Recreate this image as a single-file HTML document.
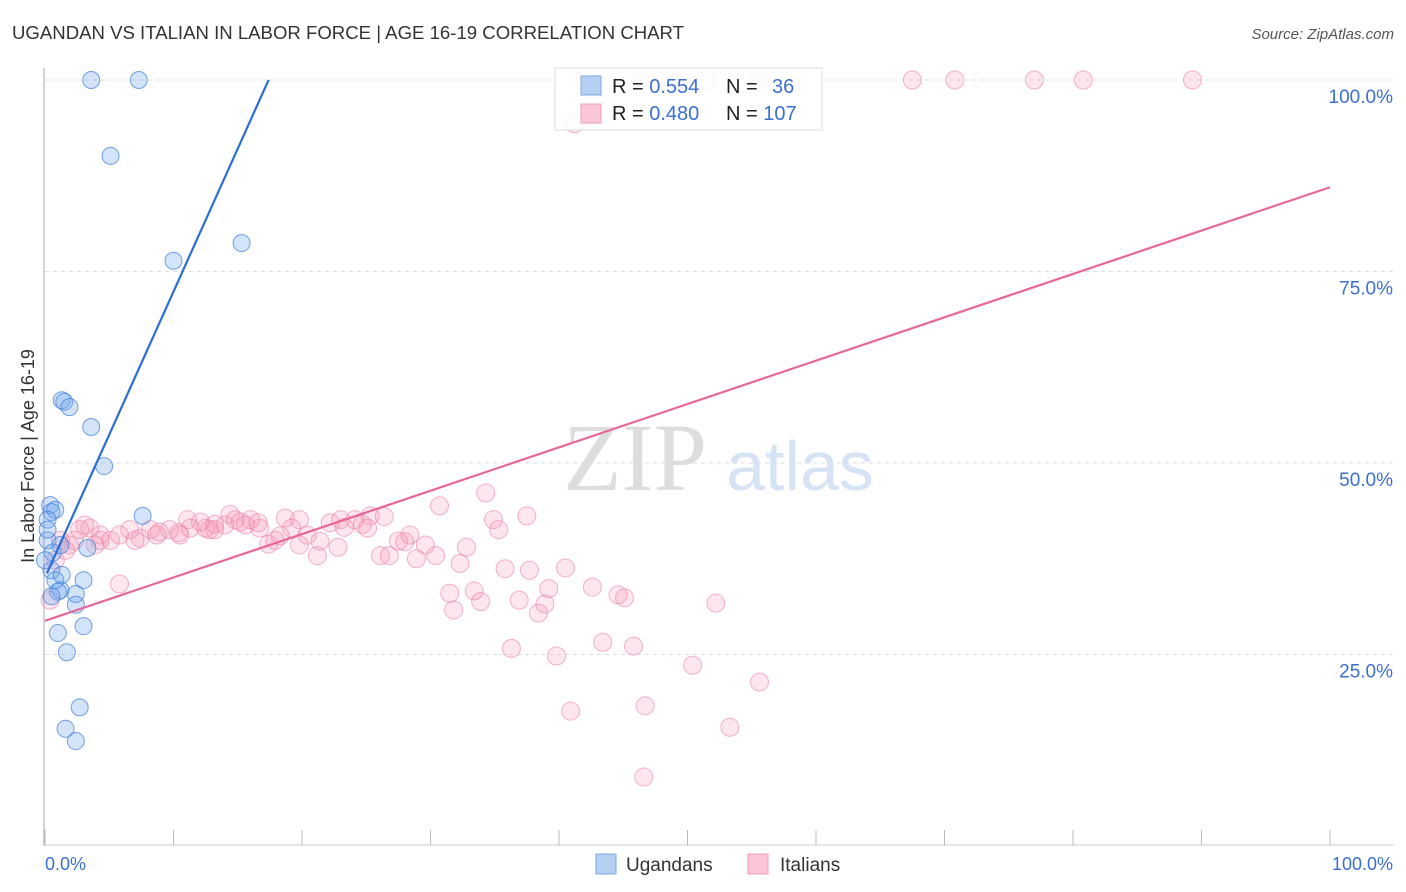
<!DOCTYPE html>
<html><head><meta charset="utf-8"><style>
body{margin:0;background:#fff;font-family:"Liberation Sans",sans-serif;}
svg{display:block}
</style></head><body>
<svg id="chart" width="1406" height="892">
<text x="12" y="39" font-size="18" fill="#333" textLength="672" lengthAdjust="spacingAndGlyphs">UGANDAN VS ITALIAN IN LABOR FORCE | AGE 16-19 CORRELATION CHART</text>
<text x="1394" y="39" font-size="15" fill="#555" font-style="italic" text-anchor="end">Source: ZipAtlas.com</text>
<g id="grid"></g>
<text x="635" y="490" font-size="96" fill="#ddd" font-family="Liberation Serif,serif" text-anchor="middle">ZIP</text>
<text x="800" y="490" font-size="70" fill="#d6e3f5" text-anchor="middle">atlas</text>
<line x1="44" y1="68" x2="44" y2="846" stroke="#aaa"/>
<line x1="44" y1="845" x2="1394" y2="845" stroke="#ccc"/>
<g id="xticks"></g>
<g id="ylabels"></g>
<text x="45" y="870" font-size="18" fill="#3a70d0">0.0%</text>
<text x="1393" y="870" font-size="18" fill="#3a70d0" text-anchor="end">100.0%</text>
<text transform="translate(34,456) rotate(-90)" font-size="18" fill="#333" text-anchor="middle">In Labor Force | Age 16-19</text>
<g id="pink"></g>
<g id="blue"></g>
<g id="lines"></g>
<g>
<rect x="555" y="68" width="267" height="62" fill="rgba(255,255,255,0.85)" stroke="#ddd"/>
<rect x="581" y="76" width="20" height="19" fill="#b6d0f4" stroke="#7aa7e6"/>
<rect x="581" y="104" width="20" height="19" fill="#fbc6d6" stroke="#f0a0ba"/>
<text x="612" y="93" font-size="20" fill="#222">R = <tspan fill="#3a70d0">0.554</tspan></text>
<text x="726" y="93" font-size="20" fill="#222">N = <tspan fill="#3a70d0" x="772">36</tspan></text>
<text x="612" y="120" font-size="20" fill="#222">R = <tspan fill="#3a70d0">0.480</tspan></text>
<text x="726" y="120" font-size="20" fill="#222">N = <tspan fill="#3a70d0">107</tspan></text>
</g>
<g>
<rect x="596" y="854" width="20" height="20" fill="#b6d0f4" stroke="#7aa7e6"/>
<text x="626" y="871" font-size="19" fill="#333">Ugandans</text></g>
<g>
<rect x="748" y="854" width="20" height="20" fill="#fbc6d6" stroke="#f0a0ba"/>
<text x="780" y="871" font-size="19" fill="#333">Italians</text></g>
</svg>
<script>
const yTicks=[25,50,75,100];
const yTickLabels=["25.0%","50.0%","75.0%","100.0%"];
const xTicks=[0,10,20,30,40,50,60,70,80,90,100];
const blueX=[3.6,7.3,5.1,15.3,10.0,1.3,1.5,1.9,3.6,4.6,7.6,0.4,0.5,0.8,0.2,0.2,0.6,1.2,3.3,3.0,1.2,1.0,0.5,2.4,2.4,3.0,1.0,1.7,2.7,1.6,2.4,0.5,0.8,1.3,0.2,0.0];
const blueY=[100,100,90.1,78.7,76.4,58.2,58.0,57.3,54.7,49.6,43.1,44.5,43.6,43.9,42.6,39.9,38.3,39.3,38.9,34.7,33.4,33.2,32.6,32.9,31.5,28.7,27.8,25.3,18.1,15.3,13.7,36.0,34.7,35.4,41.3,37.3];
const pinkPx=[[912,80],[955,80],[1034,80],[1083,80],[1193,80],[585,80],[640,80],[680,80],[705,80],[760,80],[574,124],[486,493],[440,506],[493,520],[527,516],[498,530],[370,516],[384,517],[230,514],[187,520],[200,522],[240,522],[258,523],[285,518],[300,520],[215,524],[235,520],[250,520],[330,523],[340,520],[355,520],[362,524],[345,527],[367,528],[292,528],[307,535],[320,541],[338,547],[280,536],[268,544],[275,540],[300,545],[318,556],[380,556],[390,556],[398,541],[410,535],[405,542],[425,545],[417,559],[435,556],[460,563],[466,547],[505,569],[530,570],[565,568],[549,589],[593,587],[618,595],[624,598],[474,591],[480,602],[450,593],[453,610],[519,600],[545,604],[538,613],[716,603],[603,642],[634,646],[511,648],[556,656],[692,665],[759,682],[570,711],[645,706],[730,727],[644,777],[60,540],[70,545],[80,530],[90,528],[100,535],[110,540],[120,535],[130,530],[140,538],[150,530],[160,532],[170,530],[180,535],[190,528],[205,528],[215,530],[120,584],[50,600],[55,560],[65,550],[75,540],[85,525],[100,540],[135,540],[157,535],[178,533],[210,530],[225,525],[245,525],[260,528],[95,545]];
const pinkX=pinkPx.map(p=>+((p[0]-45)/12.85).toFixed(1));
const pinkY=pinkPx.map(p=>+((846-p[1])/7.66).toFixed(1));
const blueLine=[0.15,35.6,17.4,100];
const pinkLine=[0,29.4,100,86.0];
const sx=v=>45+v*12.85, sy=v=>846-v*7.66;
const NS="http://www.w3.org/2000/svg";
function mk(t,a,p){const e=document.createElementNS(NS,t);for(const k in a)e.setAttribute(k,a[k]);p.appendChild(e);return e;}
const grid=document.getElementById('grid'),yl=document.getElementById('ylabels'),xt=document.getElementById('xticks');
yTicks.forEach((v,i)=>{
 const l=mk('line',{x1:45,x2:1394,y1:sy(v),y2:sy(v),stroke:'#ddd','stroke-dasharray':'4,4'},grid);
 
 
 const t=mk('text',{x:1393,y:sy(v)+23,'font-size':19,fill:'#3a70d0','text-anchor':'end'},yl);
 t.textContent=yTickLabels[i];
 
 
});
xTicks.forEach(v=>{
 const l=mk('line',{x1:sx(v),x2:sx(v),y1:830,y2:845,stroke:'#bbb'},xt);
 
 
});
const pg=document.getElementById('pink');
pinkX.forEach((x,i)=>{
 const c=mk('circle',{cx:sx(x),cy:sy(pinkY[i]),r:9,fill:'rgba(245,140,175,0.22)',stroke:'rgba(235,130,165,0.6)'},pg);
 
 
});
const bg=document.getElementById('blue');
blueX.forEach((x,i)=>{
 const c=mk('circle',{cx:sx(x),cy:sy(blueY[i]),r:8.5,fill:'rgba(110,165,235,0.3)',stroke:'rgba(70,130,220,0.75)'},bg);
 
 
});
const lg=document.getElementById('lines');
const bl=mk('line',{x1:sx(blueLine[0]),y1:sy(blueLine[1]),x2:sx(blueLine[2]),y2:sy(blueLine[3]),stroke:'#2a6ed6','stroke-width':2.2},lg);


const pl=mk('line',{x1:sx(pinkLine[0]),y1:sy(pinkLine[1]),x2:sx(pinkLine[2]),y2:sy(pinkLine[3]),stroke:'#e8679a','stroke-width':2.2},lg);


</script>
</body></html>
